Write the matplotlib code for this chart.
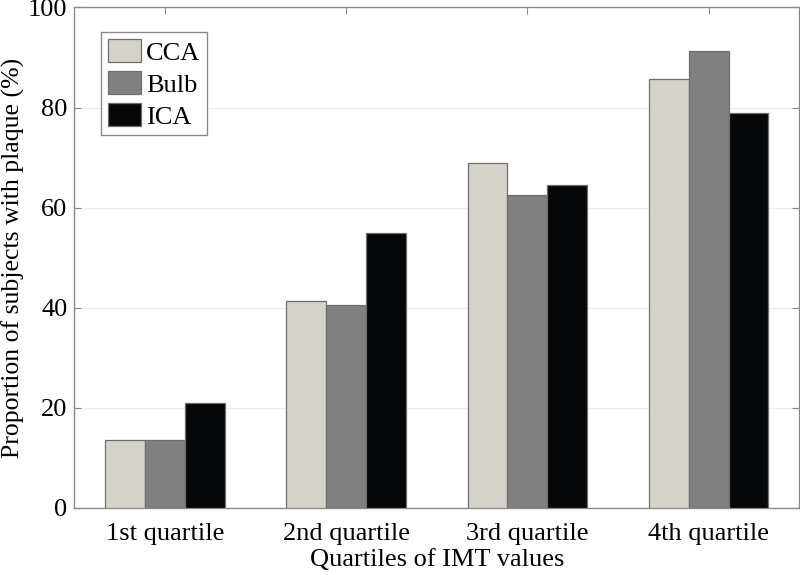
import numpy as np
import matplotlib.pyplot as plt

plt.rcParams['font.family'] = ['Liberation Serif', 'DejaVu Serif']

categories = ['1st quartile', '2nd quartile', '3rd quartile', '4th quartile']
cca = [13.5, 41.3, 69.0, 85.8]
bulb = [13.5, 40.6, 62.5, 91.3]
ica = [21.0, 55.0, 64.5, 78.9]
series_names = ['CCA', 'Bulb', 'ICA']
colors = ['#d4d2ca', '#808080', '#050709']

fig = plt.figure(figsize=(8, 5.75), dpi=100)
ax = fig.add_axes([0.093, 0.117, 0.906, 0.87])

x = np.arange(1, len(categories) + 1)
w = 0.22
for i, (vals, name, c) in enumerate(zip([cca, bulb, ica], series_names, colors)):
    ax.bar(x + (i - 1) * w, vals, w, color=c, edgecolor='#6e6e6e', linewidth=0.9,
           label=name, zorder=3)

ax.set_xlim(0.5, 4.5)
ax.set_ylim(0, 100)
ax.set_xticks(x)
ax.set_xticklabels(categories)
ax.set_yticks(np.arange(0, 101, 20))
ax.yaxis.grid(True, color='#ececec', linewidth=0.9, zorder=0)
ax.set_axisbelow(True)

for s in ax.spines.values():
    s.set_color('#8a8a8a')
    s.set_linewidth(1.0)
ax.tick_params(direction='in', top=True, right=True, length=5, color='#8a8a8a',
               labelsize=19, labelcolor='black', pad=5)
ax.tick_params(axis='x', pad=11)

ax.set_xlabel('Quartiles of IMT values', fontsize=19, labelpad=3)
ax.set_ylabel('Proportion of subjects with plaque (%)', fontsize=18.5)
ax.yaxis.set_label_coords(-0.068, 0.5)

leg = ax.legend(loc='upper left', bbox_to_anchor=(0.037, 0.95), fontsize=19,
                fancybox=False, framealpha=1, edgecolor='#8a8a8a',
                handlelength=1.25, handleheight=0.95, handletextpad=0.2,
                borderpad=0.25, labelspacing=0.25, borderaxespad=0)
leg.get_frame().set_linewidth(1.0)

plt.savefig('out.png', dpi=100)
